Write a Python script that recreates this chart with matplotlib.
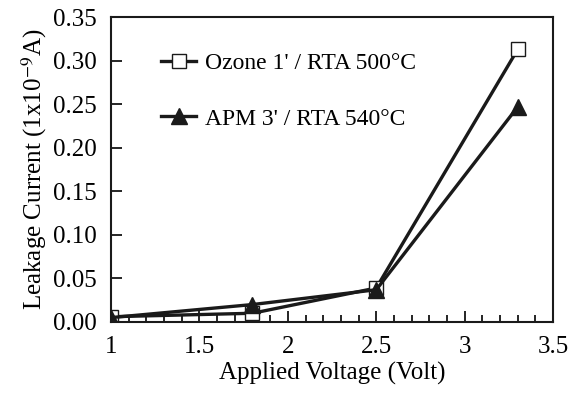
import numpy as np
import matplotlib
matplotlib.use('Agg')
import matplotlib.pyplot as plt
from matplotlib.ticker import MultipleLocator, FormatStrFormatter

plt.rcParams['font.family'] = ['Liberation Serif', 'DejaVu Serif']
plt.rcParams['mathtext.fontset'] = 'stix'

# data
voltage = [1.0, 1.8, 2.5, 3.3]
ozone = [0.006, 0.010, 0.039, 0.313]
apm = [0.005, 0.020, 0.037, 0.247]

label_ozone = "Ozone 1' / RTA 500\u00b0C"
label_apm = "APM 3' / RTA 540\u00b0C"

fig = plt.figure(figsize=(5.78, 3.97), dpi=100)
ax = fig.add_axes([0.192, 0.189, 0.765, 0.768])

ax.plot(voltage, ozone, color='#1a1a1a', lw=2.4, marker='s', ms=10,
        mfc='white', mec='#1a1a1a', mew=1.0, label=label_ozone)
ax.plot(voltage, apm, color='#1a1a1a', lw=2.4, marker='^', ms=11,
        mfc='#1a1a1a', mec='#1a1a1a', label=label_apm)

ax.set_xlim(1, 3.5)
ax.set_ylim(0, 0.35)
ax.xaxis.set_major_locator(MultipleLocator(0.5))
ax.xaxis.set_minor_locator(MultipleLocator(0.1))
ax.yaxis.set_major_locator(MultipleLocator(0.05))
ax.xaxis.set_major_formatter(FormatStrFormatter('%g'))
ax.yaxis.set_major_formatter(FormatStrFormatter('%.2f'))

ax.tick_params(axis='both', which='both', direction='in', labelsize=18,
               width=1.2, pad=10)
ax.tick_params(axis='x', which='major', length=8)
ax.tick_params(axis='x', which='minor', length=5)
ax.tick_params(axis='y', which='major', length=8)
ax.tick_params(right=False, top=False, which='both')
for s in ax.spines.values():
    s.set_linewidth(1.5)
    s.set_color('#1a1a1a')

ax.set_xlabel('Applied Voltage (Volt)', fontsize=18, labelpad=3)
ax.set_ylabel('Leakage Current (1x10$^{-9}$A)', fontsize=18, labelpad=3)

ax.legend(loc='upper left', bbox_to_anchor=(0.114, 0.884), frameon=False,
          fontsize=17, labelspacing=1.45, handlelength=1.45, handletextpad=0.4,
          borderaxespad=0, borderpad=0)

fig.savefig('out.png', dpi=100)
